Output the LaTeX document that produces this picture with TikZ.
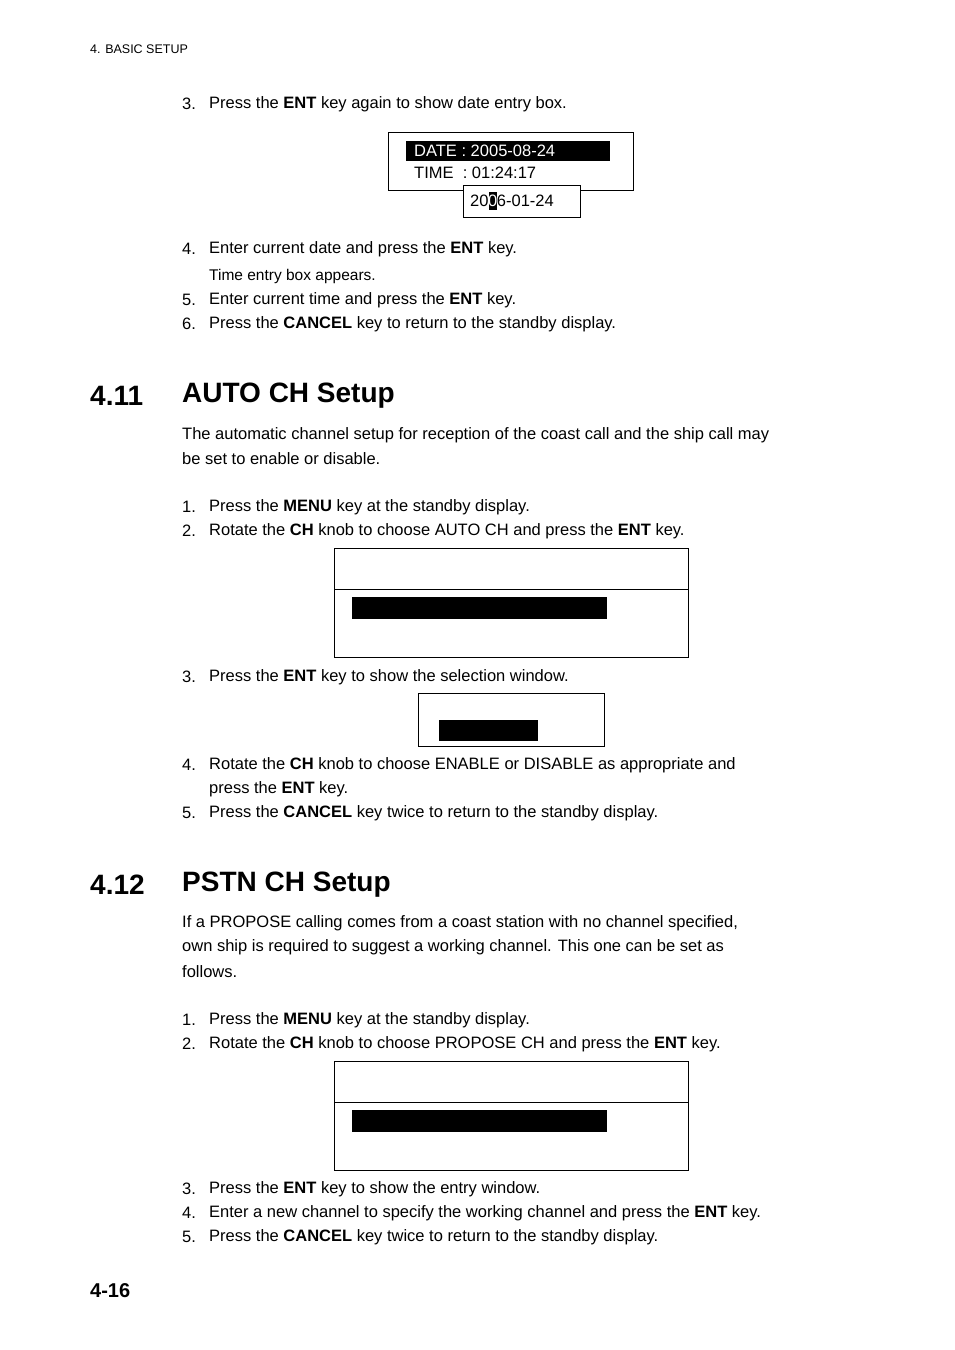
\documentclass[tikz,border=0pt]{standalone}
\usepackage{fontspec}
\setmainfont{Liberation Sans}
\begin{document}
\begin{tikzpicture}[x=1pt,y=-1pt,
  txt/.style={anchor=west,inner sep=0pt,font=\fontsize{16.5}{20}\selectfont},
  num/.style={txt},
  head/.style={anchor=west,inner sep=0pt,font=\fontsize{28}{32}\selectfont\bfseries},
  frame/.style={draw=black,line width=1pt},
  bar/.style={fill=black,draw=none}]
\useasboundingbox[fill=white] (0,0) rectangle (954,1350);
\node[anchor=west,inner sep=0pt,font=\fontsize{12.5}{14}\selectfont] (hdr) at (90,49) {4. BASIC SETUP};
% step list 1
\node[num] (n1) at (182,104) {3.};
\node[txt] (t1) at (209,104) {Press the \textbf{ENT} key again to show date entry box.};
% date box
\draw[frame] (388,132) rectangle (633,190);
\fill[bar] (406,141) rectangle (610,161);
\node[txt,text=white] (date) at (414,151) {DATE : 2005-08-24};
\node[txt] (time) at (414,173) {TIME\ \ : 01:24:17};
\draw[frame,fill=white] (463,185) rectangle (580,217);
\node[txt] (entry) at (470,201) {20\colorbox{black}{\hspace*{-3.4pt}\textcolor{white}{0}\hspace*{-3.4pt}}6-01-24};
\node[num] (n2) at (182,249) {4.};
\node[txt] (t2) at (209,249) {Enter current date and press the \textbf{ENT} key.};
\node[anchor=west,inner sep=0pt,font=\fontsize{15.5}{18}\selectfont] (t2b) at (209,276) {Time entry box appears.};
\node[num] (n3) at (182,300) {5.};
\node[txt] (t3) at (209,300) {Enter current time and press the \textbf{ENT} key.};
\node[num] (n4) at (182,324) {6.};
\node[txt] (t4) at (209,324) {Press the \textbf{CANCEL} key to return to the standby display.};
% 4.11
\node[head] (h1n) at (90,396) {4.11};
\node[head] (h1) at (182,396) {AUTO CH Setup};
\node[txt] (p1) at (182,435) {The automatic channel setup for reception of the coast call and the ship call may};
\node[txt] (p1b) at (182,459) {be set to enable or disable.};
\node[num] (a1n) at (182,507) {1.};
\node[txt] (a1) at (209,507) {Press the \textbf{MENU} key at the standby display.};
\node[num] (a2n) at (182,531) {2.};
\node[txt] (a2) at (209,531) {Rotate the \textbf{CH} knob to choose AUTO CH and press the \textbf{ENT} key.};
\draw[frame] (334,548) rectangle (688,657);
\draw[frame] (334,589) -- (688,589);
\fill[bar] (352,597) rectangle (607,619);
\node[num] (a3n) at (182,677) {3.};
\node[txt] (a3) at (209,677) {Press the \textbf{ENT} key to show the selection window.};
\draw[frame] (418,693) rectangle (604,746);
\fill[bar] (439,720) rectangle (538,741);
\node[num] (a4n) at (182,765) {4.};
\node[txt] (a4) at (209,765) {Rotate the \textbf{CH} knob to choose ENABLE or DISABLE as appropriate and};
\node[txt] (a4b) at (209,789) {press the \textbf{ENT} key.};
\node[num] (a5n) at (182,813) {5.};
\node[txt] (a5) at (209,813) {Press the \textbf{CANCEL} key twice to return to the standby display.};
% 4.12
\node[head] (h2n) at (90,885) {4.12};
\node[head] (h2) at (182,885) {PSTN CH Setup};
\node[txt] (q1) at (182,923) {If a PROPOSE calling comes from a coast station with no channel specified,};
\node[txt] (q2) at (182,947) {own ship is required to suggest a working channel. This one can be set as};
\node[txt] (q3) at (182,972) {follows.};
\node[num] (b1n) at (182,1020) {1.};
\node[txt] (b1) at (209,1020) {Press the \textbf{MENU} key at the standby display.};
\node[num] (b2n) at (182,1044) {2.};
\node[txt] (b2) at (209,1044) {Rotate the \textbf{CH} knob to choose PROPOSE CH and press the \textbf{ENT} key.};
\draw[frame] (334,1061) rectangle (688,1170);
\draw[frame] (334,1102) -- (688,1102);
\fill[bar] (352,1110) rectangle (607,1132);
\node[num] (b3n) at (182,1189) {3.};
\node[txt] (b3) at (209,1189) {Press the \textbf{ENT} key to show the entry window.};
\node[num] (b4n) at (182,1213) {4.};
\node[txt] (b4) at (209,1213) {Enter a new channel to specify the working channel and press the \textbf{ENT} key.};
\node[num] (b5n) at (182,1237) {5.};
\node[txt] (b5) at (209,1237) {Press the \textbf{CANCEL} key twice to return to the standby display.};
\node[anchor=west,inner sep=0pt,font=\fontsize{20}{24}\selectfont\bfseries] (pg) at (90,1291) {4-16};
\end{tikzpicture}
\end{document}
